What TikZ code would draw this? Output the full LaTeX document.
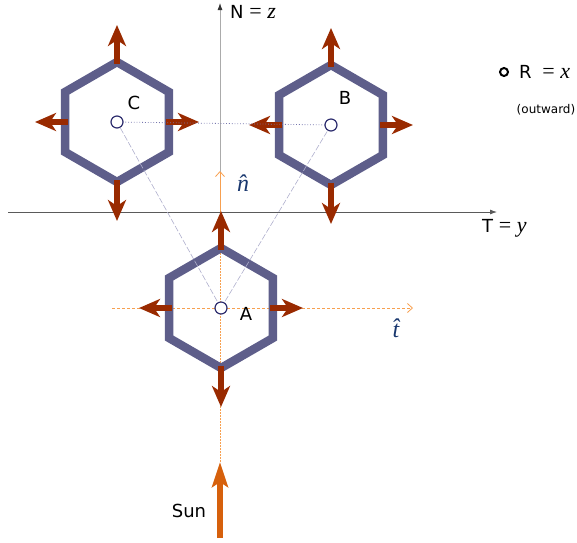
\documentclass[tikz,border=0pt]{standalone}
\usepackage{fontspec}
\setmainfont{DejaVu Sans}
\newfontfamily\varfont{Liberation Serif}
\newcommand{\var}[1]{{\varfont\itshape #1}}
\newcommand{\eqvar}[1]{{\varfont\fontsize{22}{24}\selectfont = \itshape #1}}
\usetikzlibrary{arrows.meta,calc,positioning}
\definecolor{hexblue}{RGB}{94,94,138}
\definecolor{forcered}{RGB}{153,42,0}
\definecolor{sunorange}{RGB}{214,96,12}
\definecolor{lightorange}{RGB}{247,160,80}
\definecolor{ringnavy}{RGB}{45,45,110}
\definecolor{hatnavy}{RGB}{25,55,110}
\definecolor{axisgray}{RGB}{90,90,90}
\definecolor{linkblue}{RGB}{120,120,175}
\definecolor{rayblue}{RGB}{175,175,205}

\begin{document}
\begin{tikzpicture}[x=1pt, y=-1pt,
  every node/.style={font=\fontsize{18}{21}\selectfont, inner sep=1pt},
  hexside/.style={draw=hexblue, line width=8.5pt, line join=miter},
  force/.style={-{Stealth[length=21pt, width=18pt, inset=6pt]}, line width=5.5pt, color=forcered},
  sunarr/.style={-{Stealth[length=25pt, width=16pt, inset=5pt]}, line width=6pt, color=sunorange},
  centre/.style={circle, draw=ringnavy, fill=white, line width=1.2pt, minimum size=12pt, inner sep=0pt},
  axis/.style={-{Latex[length=7pt, width=5pt]}, line width=0.8pt},
  unitvec/.style={-{Straight Barb[length=5pt, width=9pt]}, line width=0.8pt, color=lightorange},
  hat/.style={text=hatnavy, font=\fontsize{24}{26}\selectfont}
]
  \useasboundingbox (0,0) rectangle (577,542);

  % axes and reference frame
  \coordinate (origin) at (220,212);
  \coordinate (ntip) at (220,3);
  \coordinate (tleft) at (8,212);
  \coordinate (ttip) at (497,212);
  \coordinate (nhat) at (220,171);
  \coordinate (tstart) at (112,308);
  \coordinate (that) at (413,308);
  \coordinate (suntip) at (220,462);
  \coordinate (sunbase) at (220,538);

  \draw[axis, color=black!33, -{Latex[length=7pt, width=5pt, color=black!80]}] (origin) -- (ntip);
  \draw[axis, color=axisgray] (tleft) -- (ttip);
  \draw[lightorange, line width=0.7pt, dash pattern=on 2pt off 1pt] (suntip) -- (origin);
  \draw[unitvec] (origin) -- (nhat);
  \draw[unitvec, dash pattern=on 3pt off 2pt] (tstart) -- (that);

  % satellites
  \coordinate (C) at (117,122);
  \coordinate (B) at (331,125);
  \coordinate (A) at (221,308);

  \foreach \c in {C,B,A} {
    \draw[hexside] ($(\c)+(90:60)$) -- ($(\c)+(150:60)$) -- ($(\c)+(210:60)$)
      -- ($(\c)+(270:60)$) -- ($(\c)+(330:60)$) -- ($(\c)+(30:60)$) -- cycle;
    \foreach \sx/\sy/\ex/\ey in {0/-58/0/-97, 0/58/0/99, -49/0/-82/0, 49/0/82/0} {
      \draw[force] ($(\c)+(\sx,\sy)$) -- ($(\c)+(\ex,\ey)$);
    }
  }

  % baselines between satellites
  \draw[linkblue, line width=0.8pt, dotted] (C) -- (B);
  \draw[rayblue, line width=0.6pt, dash pattern=on 6pt off 2pt] (A) -- (C);
  \draw[rayblue, line width=0.6pt, dash pattern=on 6pt off 2pt] (A) -- (B);

  \foreach \c in {C,B,A} {
    \node[centre] (ring\c) at (\c) {};
  }

  \draw[sunarr] (sunbase) -- (suntip);

  % labels
  \node (labC) at (134,103) {C};
  \node (labB) at (345,98) {B};
  \node (labA) at (246,314) {A};
  \node[anchor=west] (labN) at (229,12) {N \eqvar{z}};
  \node[anchor=west] (labT) at (481,228) {T \eqvar{y}};
  \node[hat] (labn) at (243,183) {\var{\^{n}}};
  \node[hat] (labt) at (396,328) {\var{\^{t}}};
  \node (labSun) at (189,511) {Sun};
  \node[circle, draw=black, line width=2pt, minimum size=8pt, inner sep=0pt] (legring) at (504,72) {};
  \node[anchor=west] (legR) at (518,72) {R\; \eqvar{x}};
  \node[font=\fontsize{12}{14}\selectfont] (legout) at (546,110) {(outward)};
\end{tikzpicture}
\end{document}
